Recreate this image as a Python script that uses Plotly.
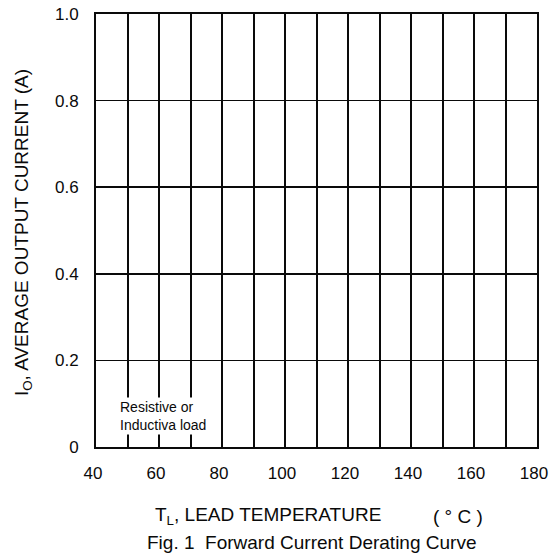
import plotly.graph_objects as go

# Axis values
x_grid = [40, 50, 60, 70, 80, 90, 100, 110, 120, 130, 140, 150, 160, 170, 180]
x_labels = ["40", "", "60", "", "80", "", "100", "", "120", "", "140", "", "160", "", "180"]
y_grid = [0, 0.2, 0.4, 0.6, 0.8, 1.0]
y_labels = ["0", "0.2", "0.4", "0.6", "0.8", "1.0"]

FONT = "Liberation Sans, Arial, sans-serif"
INK = "#0a0a0a"

W, H = 549, 558
PLOT_L, PLOT_R, PLOT_T, PLOT_B = 96, 537, 14, 447  # page pixels
L, R, T, B = PLOT_L, W - PLOT_R, PLOT_T, H - PLOT_B
PW, PH = PLOT_R - PLOT_L, PLOT_B - PLOT_T


def px_x(px):
    return (px - PLOT_L) / PW


def px_y(py):
    return (PLOT_B - py) / PH


fig = go.Figure()
fig.add_trace(go.Scatter(x=[], y=[], mode="lines", showlegend=False))

fig.update_layout(
    width=W, height=H,
    margin=dict(l=L, r=R, t=T, b=B, autoexpand=False),
    paper_bgcolor="white", plot_bgcolor="white",
    font=dict(family=FONT, color=INK),
    showlegend=False,
    xaxis=dict(
        range=[40, 180], tickvals=x_grid, ticktext=x_labels,
        showgrid=True, gridcolor=INK, gridwidth=2,
        showline=True, linecolor=INK, linewidth=2, mirror=True,
        ticks="", zeroline=False, ticklabelstandoff=10, automargin=False,
        ticklabeloverflow="allow", ticklabelshift=-3,
        tickfont=dict(size=17, family=FONT, color=INK),
    ),
    yaxis=dict(
        range=[0, 1.0], tickvals=y_grid, ticktext=y_labels,
        showgrid=True, gridcolor=INK, gridwidth=1.6,
        showline=True, linecolor=INK, linewidth=2, mirror=True,
        ticks="", zeroline=False, ticklabelstandoff=12, automargin=False,
        ticklabeloverflow="allow",
        tickfont=dict(size=17, family=FONT, color=INK),
    ),
    annotations=[
        dict(text="Resistive or<br>Inductiva load", x=46.9, y=0.072,
             xref="x", yref="y", xanchor="left", yanchor="middle",
             showarrow=False, align="left", bgcolor="white",
             font=dict(size=14, family=FONT, color=INK), borderpad=1),
        dict(text="I<sub>O</sub>, AVERAGE OUTPUT CURRENT (A)",
             x=px_x(23), y=px_y(233), xref="paper", yref="paper",
             xanchor="center", yanchor="middle", textangle=-90,
             showarrow=False, font=dict(size=19, family=FONT, color=INK)),
        dict(text="T<sub>L</sub>, LEAD TEMPERATURE",
             x=px_x(153), y=px_y(516), xref="paper", yref="paper",
             xanchor="left", yanchor="middle",
             showarrow=False, font=dict(size=19, family=FONT, color=INK)),
        dict(text="( ° C )",
             x=px_x(431), y=px_y(516), xref="paper", yref="paper",
             xanchor="left", yanchor="middle",
             showarrow=False, font=dict(size=19, family=FONT, color=INK)),
        dict(text="Fig. 1  Forward Current Derating Curve",
             x=px_x(145), y=px_y(542), xref="paper", yref="paper",
             xanchor="left", yanchor="middle",
             showarrow=False, font=dict(size=19, family=FONT, color=INK)),
    ],
)

fig.write_html(
    "out.html",
    config={"displayModeBar": False, "staticPlot": True},
    post_script="document.body.style.margin='0';document.body.style.overflow='hidden';",
)
